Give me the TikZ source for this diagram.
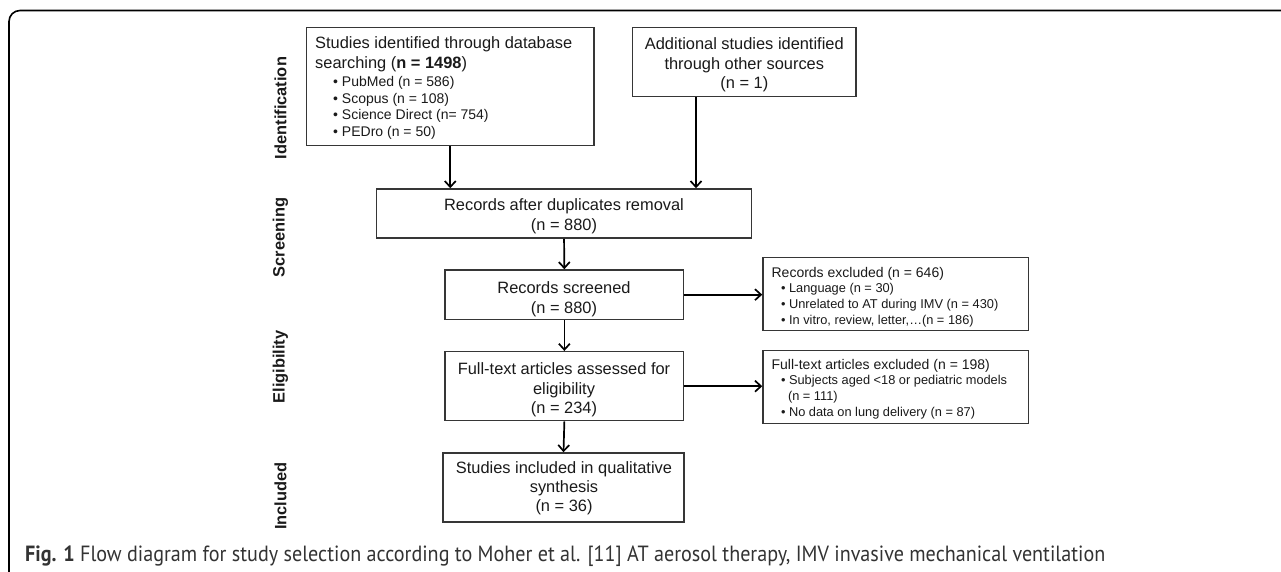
\documentclass[tikz,border=0pt]{standalone}
\usepackage{fontspec}
\usepackage{graphicx}
\setmainfont{Liberation Sans}
\newfontfamily\capfont{PT Sans}
\usetikzlibrary{arrows.meta,fit}
\definecolor{boxline}{HTML}{363636}
\definecolor{txt}{HTML}{1A1A1A}
\definecolor{captxt}{HTML}{333333}
\tikzset{
  box/.style={draw=boxline, line width=1.5pt, inner sep=0pt},
  tmain/.style={anchor=base, inner sep=0pt, text=txt, font=\fontsize{16.4}{19}\selectfont},
  tmainl/.style={tmain, anchor=base west},
  tbul/.style={anchor=base west, inner sep=0pt, text=txt, font=\fontsize{14}{17}\selectfont},
  texc/.style={anchor=base west, inner sep=0pt, text=txt, font=\fontsize{14}{17}\selectfont},
  texcb/.style={anchor=base west, inner sep=0pt, text=txt, font=\fontsize{12.8}{15}\selectfont},
  side/.style={rotate=90, inner sep=0pt, text=txt, font=\bfseries\fontsize{16.4}{18}\selectfont},
  arr/.style={draw=black, line width=1.7pt, -{Straight Barb[length=6pt,width=11pt,line width=1.7pt]}}
}
\begin{document}
\begin{tikzpicture}[x=1pt,y=-1pt]
\useasboundingbox (0,0) rectangle (1281,571);
\fill[white] (0,0) rectangle (1281,571);
% frame
\draw[line width=1.6pt, rounded corners=11pt] (9,580) -- (9,10.5) -- (1290,10.5);

% box corners
\coordinate (db1) at (306.5,27.7);  \coordinate (db2) at (594,145.3);
\coordinate (ad1) at (632.6,27.7);  \coordinate (ad2) at (856,96.7);
\coordinate (du1) at (376.7,189);   \coordinate (du2) at (751.4,238);
\coordinate (sc1) at (445,270);     \coordinate (sc2) at (683.7,319.3);
\coordinate (fu1) at (445,351.7);   \coordinate (fu2) at (683.7,420.7);
\coordinate (in1) at (443,453);     \coordinate (in2) at (684,522);
\coordinate (e11) at (763,257.7);   \coordinate (e12) at (1028.6,330.7);
\coordinate (e21) at (763,350.3);   \coordinate (e22) at (1028.6,423.7);

\node[box, fit=(db1)(db2)] (db) {};
\node[box, fit=(ad1)(ad2)] (add) {};
\node[box, fit=(du1)(du2)] (dup) {};
\node[box, fit=(sc1)(sc2)] (scr) {};
\node[box, fit=(fu1)(fu2)] (full) {};
\node[box, fit=(in1)(in2)] (inc) {};
\node[box, fit=(e11)(e12)] (exa) {};
\node[box, fit=(e21)(e22)] (exb) {};

% db texts
\node[tmainl] (db-t1) at (315,48.5) {Studies identified through database};
\node[tmainl] (db-t2) at (315,68) {searching (\textbf{n = 1498})};
\node[tbul] (db-b1) at (333,86) {• PubMed (n = 586)};
\node[tbul] (db-b2) at (333,103) {• Scopus (n = 108)};
\node[tbul] (db-b3) at (333,119.5) {• Science Direct (n= 754)};
\node[tbul] (db-b4) at (333,136) {• PEDro (n = 50)};

% additional
\node[tmain] (ad-t1) at (744.3,49) {Additional studies identified};
\node[tmain] (ad-t2) at (744.3,69) {through other sources};
\node[tmain] (ad-t3) at (744.3,88.5) {(n = 1)};

% duplicates
\node[tmain] (du-t1) at (564,210) {Records after duplicates removal};
\node[tmain] (du-t2) at (564,230) {(n = 880)};

% screened
\node[tmain] (sc-t1) at (564,293) {Records screened};
\node[tmain] (sc-t2) at (564,313) {(n = 880)};

% full text
\node[tmain] (fu-t1) at (564,374.5) {Full-text articles assessed for};
\node[tmain] (fu-t2) at (564,394) {eligibility};
\node[tmain] (fu-t3) at (564,413.5) {(n = 234)};

% included
\node[tmain] (in-t1) at (564,473) {Studies included in qualitative};
\node[tmain] (in-t2) at (564,492) {synthesis};
\node[tmain] (in-t3) at (564,511) {(n = 36)};

% excluded 1
\node[texc] (ea-t1) at (771.4,277.5) {Records excluded (n = 646)};
\node[texcb] (ea-b1) at (780.8,292) {• Language (n = 30)};
\node[texcb] (ea-b2) at (780.8,308.5) {• Unrelated to AT during IMV (n = 430)};
\node[texcb] (ea-b3) at (780.8,324.3) {• In vitro, review, letter,\dots(n = 186)};

% excluded 2
\node[texc] (eb-t1) at (771.4,369.3) {Full-text articles excluded (n = 198)};
\node[texcb] (eb-b1) at (780.8,384.5) {• Subjects aged <18 or pediatric models};
\node[texcb] (eb-b2) at (787.8,400.7) {(n = 111)};
\node[texcb] (eb-b3) at (780.8,416) {• No data on lung delivery (n = 87)};

% side labels
\node[side] (s-id) at (280.5,108) {Identification};
\node[side] (s-sc) at (280.5,237.5) {Screening};
\node[side] (s-el) at (280.5,367) {Eligibility};
\node[side] (s-in) at (280.5,496) {Included};

% arrows
\coordinate (a2) at ([xshift=-48.3pt]add.south);
\draw[arr] (db.south) -- (db.south |- dup.north);
\draw[arr] (a2) -- (a2 |- dup.north);
\draw[arr] (dup.south) -- (scr.north);
\draw[arr] (scr.south) -- (full.north);
\draw[arr] (full.south) -- (inc.north);
\draw[arr] (scr.east) -- (scr.east -| exa.west);
\draw[arr] (full.east) -- (full.east -| exb.west);

% caption
\node[anchor=base west, inner sep=0pt, text=captxt] (cap) at (25,561.5)
  {\resizebox{1080pt}{\height}{\capfont\fontsize{22}{26}\selectfont\textbf{Fig. 1} Flow diagram for study selection according to Moher et al. [11] AT aerosol therapy, IMV invasive mechanical ventilation}};
\end{tikzpicture}
\end{document}
